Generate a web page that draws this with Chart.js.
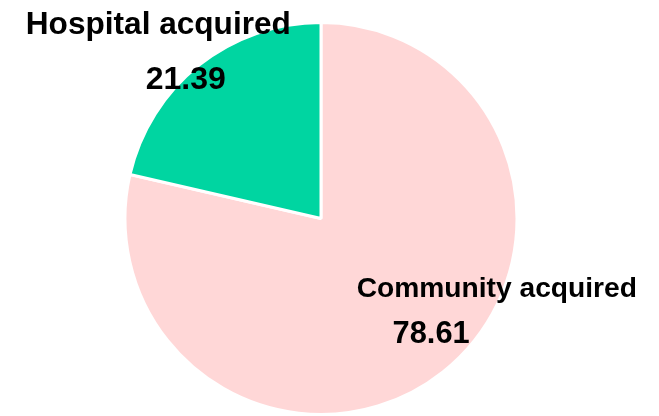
<!DOCTYPE html>
<html>
<head>
<meta charset="utf-8">
<script src="https://cdn.jsdelivr.net/npm/chart.js@4.4.1/dist/chart.umd.min.js"></script>
<style>
  html, body { margin: 0; padding: 0; background: #fff; }
  #wrap { width: 659px; height: 416px; }
</style>
</head>
<body>
<div id="wrap"><canvas id="pie"></canvas></div>
<script>
const categories = ['Community acquired', 'Hospital acquired'];
const shares = [78.61, 21.39];
const sliceColors = ['#ffd7d7', '#00d5a1'];

// label baselines in units of the pie radius, relative to its centre
const nameOffsets = [[0.897, 0.402], [-0.83, -0.943]];
const valueOffsets = [[0.562, 0.634], [-0.69, -0.66]];
const nameSizes = [28.2, 31.6];
const valueSizes = [30.8, 32];

const FONT = "'Liberation Sans', Arial, sans-serif";

const sliceLabels = {
    id: 'sliceLabels',
    afterDatasetsDraw(chart) {
        const ctx = chart.ctx;
        const arcs = chart.getDatasetMeta(0).data;
        ctx.save();
        ctx.fillStyle = '#000';
        ctx.textAlign = 'center';
        ctx.textBaseline = 'alphabetic';
        arcs.forEach((arc, i) => {
            const r = arc.outerRadius;
            ctx.font = 'bold ' + nameSizes[i] + 'px ' + FONT;
            ctx.fillText(categories[i], arc.x + nameOffsets[i][0] * r, arc.y + nameOffsets[i][1] * r);
            ctx.font = 'bold ' + valueSizes[i] + 'px ' + FONT;
            ctx.fillText(shares[i].toFixed(2), arc.x + valueOffsets[i][0] * r, arc.y + valueOffsets[i][1] * r);
        });
        ctx.restore();
    }
};

new Chart(document.getElementById('pie'), {
    type: 'pie',
    data: {
        labels: categories,
        datasets: [{ data: shares, backgroundColor: sliceColors, borderColor: '#fff', borderWidth: 3 }]
    },
    options: {
        responsive: true, maintainAspectRatio: false, animation: false,
        layout: { padding: { top: 21, bottom: 0, left: 0, right: 17 } },
        plugins: { legend: { display: false }, tooltip: { enabled: false } }
    },
    plugins: [sliceLabels]
});
</script>
</body>
</html>
